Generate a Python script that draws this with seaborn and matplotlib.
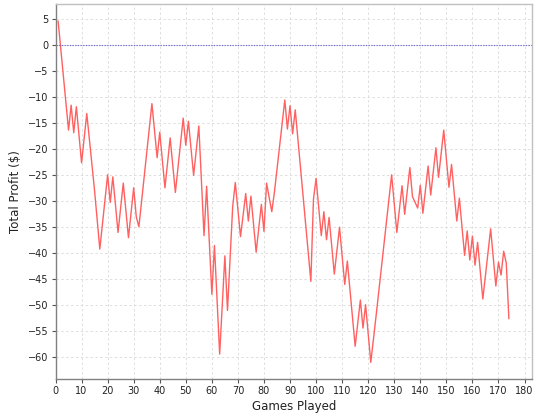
import pandas as pd
import matplotlib
matplotlib.use("Agg")
import matplotlib.pyplot as plt
import seaborn as sns

# Turning points of the running profit curve (game number, total profit in $)
games = [1, 5, 6, 7, 8, 10, 12, 15, 17, 20, 21, 22, 24, 26, 28, 30, 31, 32,
         37, 39, 40, 42, 44, 46, 49, 50, 51, 53, 55, 57, 58, 60, 61, 63, 65,
         66, 68, 69, 71, 73, 74, 75, 77, 79, 80, 81, 83, 84, 88, 89, 90, 91,
         92, 98, 99, 100, 102, 103, 104, 105, 107, 109, 111, 112, 115, 117,
         118, 119, 121, 123, 129, 131, 133, 134, 136, 137, 139, 140, 141, 143,
         144, 146, 147, 149, 151, 152, 154, 155, 157, 158, 159, 160, 161, 162,
         164, 167, 169, 170, 171, 172, 173, 174]
profit = [4.7, -16.3, -11.5, -16.8, -11.8, -22.6, -13.1, -28.0, -39.2, -24.9,
          -30.2, -25.3, -36.0, -26.5, -37.0, -27.4, -33.0, -34.9, -11.2, -21.6,
          -16.7, -27.4, -17.8, -28.3, -14.0, -19.2, -14.6, -25.0, -15.5, -36.6,
          -27.1, -47.9, -38.5, -59.4, -40.5, -51.0, -31.0, -26.4, -36.8, -28.5,
          -33.8, -29.0, -39.8, -30.6, -35.8, -26.5, -32.0, -28.3, -10.5, -16.1,
          -11.6, -17.0, -12.4, -45.4, -29.6, -25.6, -36.6, -32.0, -37.4, -33.1,
          -44.0, -35.0, -46.0, -41.5, -57.9, -49.0, -54.4, -49.9, -61.0, -52.2,
          -24.9, -36.0, -27.0, -32.5, -23.5, -29.1, -31.3, -26.9, -32.3, -23.2,
          -28.8, -19.7, -25.4, -16.3, -27.3, -22.9, -33.8, -29.4, -40.4, -35.7,
          -41.3, -36.7, -42.3, -37.9, -48.8, -35.3, -46.3, -41.7, -44.2, -39.6,
          -41.9, -52.6]

df = pd.DataFrame({"Games Played": games, "Total Profit ($)": profit})

sns.set_style("white")
plt.rcParams["font.family"] = ["DejaVu Sans"]

fig = plt.figure(figsize=(5.4, 4.2), dpi=100)
ax = fig.add_axes([0.1028, 0.0976, 0.883, 0.892])

sns.lineplot(data=df, x="Games Played", y="Total Profit ($)", ax=ax,
             color="#ff6060", linewidth=1.0)
ax.axhline(0, color="#6666cc", linestyle=(0, (1.2, 1.2)), linewidth=0.8)

ax.set_xlim(0, 183)
ax.set_ylim(-64.2, 7.9)
ax.set_xticks(range(0, 181, 10))
ax.set_yticks(range(-60, 6, 5))
ax.grid(True, color="#dedede", linestyle=(0, (2.5, 2.5)), linewidth=0.7)
ax.set_axisbelow(True)

for side in ["top", "right"]:
    ax.spines[side].set_color("#c0c0c0")
for side in ["left", "bottom"]:
    ax.spines[side].set_color("#808080")
for sp in ax.spines.values():
    sp.set_linewidth(1.0)

ax.tick_params(axis="both", labelsize=7, colors="#555555", length=3,
               width=0.8, direction="out", left=True, bottom=True, pad=2)
for lbl in ax.get_xticklabels() + ax.get_yticklabels():
    lbl.set_color("#222222")
ax.set_xlabel("Games Played", fontsize=8.5, color="#222222", labelpad=3)
ax.set_ylabel("Total Profit ($)", fontsize=8.5, color="#222222", labelpad=4)

fig.savefig("out.png", dpi=100)
